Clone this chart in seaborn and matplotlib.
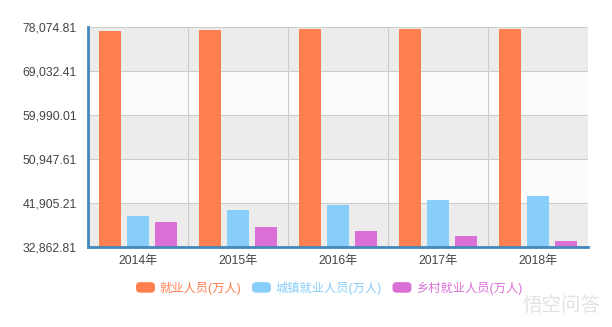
import numpy as np
import pandas as pd
import seaborn as sns
import matplotlib
matplotlib.use("Agg")
import matplotlib.pyplot as plt
from matplotlib.patches import FancyBboxPatch, Patch
from matplotlib.legend_handler import HandlerPatch
from matplotlib.ticker import FixedLocator, FuncFormatter

years = ["2014年", "2015年", "2016年", "2017年", "2018年"]
series_names = ["就业人员(万人)", "城镇就业人员(万人)", "乡村就业人员(万人)"]
total_emp = [77253, 77451, 77603, 77640, 77586]
urban_emp = [39310, 40410, 41428, 42462, 43419]
rural_emp = [37943, 37041, 36175, 35178, 34167]
y_ticks = [32862.81, 41905.21, 50947.61, 59990.01, 69032.41, 78074.81]
colors = ["#ff7f50", "#87cefa", "#da70d6"]

df = pd.DataFrame({
    "year": years * 3,
    "series": np.repeat(series_names, len(years)),
    "value": total_emp + urban_emp + rural_emp,
})

sns.set_theme(style="white")
plt.rcParams["font.family"] = ["Liberation Sans", "Noto Sans CJK SC", "DejaVu Sans"]

fig = plt.figure(figsize=(6.12, 3.27), dpi=100)
ax = fig.add_axes([88 / 612, 1 - 247 / 327, 500 / 612, 220 / 327])

ymin, ymax = y_ticks[0], y_ticks[-1]

# alternating background bands
for i in range(len(y_ticks) - 1):
    c = "#ececec" if (len(y_ticks) - 2 - i) % 2 == 0 else "#fcfcfc"
    ax.axhspan(y_ticks[i], y_ticks[i + 1], color=c, zorder=0, lw=0)

# grid lines
for y in y_ticks[1:]:
    ax.axhline(y, color="#cccccc", lw=0.8, zorder=1)
for x in np.arange(0.5, len(years), 1.0):
    ax.axvline(x, color="#cccccc", lw=0.8, zorder=1)

sns.barplot(data=df, x="year", y="value", hue="series", palette=colors,
            width=0.834, gap=0.22, saturation=1, ax=ax, zorder=3,
            legend=False, edgecolor="none", linewidth=0)

ax.set_xlim(-0.5, len(years) - 0.5)
ax.set_ylim(ymin, ymax)
ax.set_xlabel("")
ax.set_ylabel("")
ax.yaxis.set_major_locator(FixedLocator(y_ticks))
ax.yaxis.set_major_formatter(FuncFormatter(lambda v, p: f"{v:,.2f}"))
ax.tick_params(axis="y", length=0, pad=8, labelsize=8.8, labelcolor="#444444")
ax.tick_params(axis="x", length=0, pad=6, labelsize=8.8, labelcolor="#444444")

# boundary ticks under the category axis
ax.set_xticks(np.arange(-0.5, len(years), 1.0), minor=True)
ax.tick_params(axis="x", which="minor", length=5, width=1, color="#333333",
               direction="out")

for side in ["top", "right"]:
    ax.spines[side].set_visible(False)
for side in ["left", "bottom"]:
    ax.spines[side].set_color("#4488bb")
    ax.spines[side].set_linewidth(2)
    ax.spines[side].set_zorder(5)


def rounded_box(legend, orig_handle, xdescent, ydescent, width, height, fontsize):
    return FancyBboxPatch((-xdescent, -ydescent), width, height,
                          boxstyle="round,pad=0,rounding_size=3")


handles = [Patch(facecolor=c, edgecolor="none", label=n) for c, n in zip(colors, series_names)]
leg = fig.legend(handles=handles, loc="center", bbox_to_anchor=(329 / 612, 1 - 288 / 327),
                 ncol=3, frameon=False, fontsize=8.8, handlelength=1.55, handleheight=0.95,
                 handletextpad=0.35, columnspacing=0.9,
                 handler_map={Patch: HandlerPatch(patch_func=rounded_box)})
for txt, c in zip(leg.get_texts(), colors):
    txt.set_color(c)

fig.text(600 / 612, 1 - 305 / 327, "悟空问答", fontsize=14, color="#e2e2e2",
         ha="right", va="center", family=["Noto Sans CJK SC", "DejaVu Sans"])

fig.savefig("out.png", dpi=100)
